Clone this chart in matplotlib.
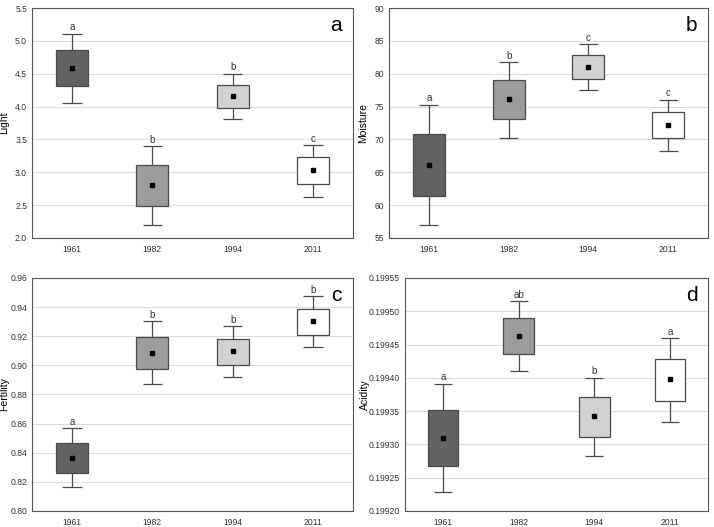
import numpy as np
import matplotlib
matplotlib.use('Agg')
import matplotlib.pyplot as plt

plt.rcParams['font.family'] = ['Liberation Sans', 'DejaVu Sans']

years = ['1961', '1982', '1994', '2011']
box_colors = ['#636363', '#9c9c9c', '#d2d2d2', '#ffffff']

# light
light_mean = [4.58, 2.81, 4.16, 3.03]
light_box_lo = [4.31, 2.49, 3.98, 2.82]
light_box_hi = [4.86, 3.11, 4.33, 3.23]
light_wh_lo = [4.05, 2.20, 3.81, 2.62]
light_wh_hi = [5.11, 3.40, 4.50, 3.41]
light_letters = ['a', 'b', 'b', 'c']

# moisture
moist_mean = [66.16, 76.10, 81.02, 72.14]
moist_box_lo = [61.44, 73.06, 79.14, 70.16]
moist_box_hi = [70.87, 79.00, 82.80, 74.12]
moist_wh_lo = [56.98, 70.21, 77.47, 68.19]
moist_wh_hi = [75.29, 81.78, 84.52, 76.05]
moist_letters = ['a', 'b', 'c', 'c']

# fertility
fert_mean = [0.8363, 0.9088, 0.9099, 0.9305]
fert_box_lo = [0.8261, 0.8976, 0.9001, 0.9211]
fert_box_hi = [0.8469, 0.9198, 0.9182, 0.9390]
fert_wh_lo = [0.8162, 0.8869, 0.8917, 0.9129]
fert_wh_hi = [0.8567, 0.9303, 0.9269, 0.9474]
fert_letters = ['a', 'b', 'b', 'b']

# acidity
acid_mean = [0.199309, 0.199463, 0.199342, 0.199398]
acid_box_lo = [0.199268, 0.199436, 0.199311, 0.199365]
acid_box_hi = [0.199351, 0.199490, 0.199371, 0.199429]
acid_wh_lo = [0.199228, 0.199410, 0.199283, 0.199334]
acid_wh_hi = [0.199391, 0.199515, 0.199400, 0.199460]
acid_letters = ['a', 'ab', 'b', 'a']

edge = '#4a4a4a'


def box_panel(ax, mean, lo, hi, wlo, whi, letters, ylabel, ylim, yticks, fmt, tag, label_x):
    x = np.arange(len(years))
    # whiskers first so boxes cover them
    ax.vlines(x, wlo, lo, color=edge, lw=0.9, zorder=2)
    ax.vlines(x, hi, whi, color=edge, lw=0.9, zorder=2)
    ax.hlines(wlo, x - 0.12, x + 0.12, color=edge, lw=0.9, zorder=2)
    ax.hlines(whi, x - 0.12, x + 0.12, color=edge, lw=0.9, zorder=2)
    ax.bar(x, np.array(hi) - np.array(lo), bottom=lo, width=0.4,
           color=box_colors, edgecolor=edge, linewidth=0.9, zorder=3)
    ax.plot(x, mean, 's', color='black', ms=3, zorder=4)
    for xi, top, lab in zip(x, whi, letters):
        ax.annotate(lab, (xi, top), xytext=(0, 1), textcoords='offset points',
                    ha='center', va='bottom', fontsize=7, color='#333333')
    ax.set_xlim(-0.5, 3.5)
    ax.set_ylim(*ylim)
    ax.set_yticks(yticks)
    ax.set_yticklabels([fmt.format(v) for v in yticks])
    ax.set_xticks(x)
    ax.set_xticklabels(years)
    ax.tick_params(length=0, labelsize=6.2, colors='#333333')
    ax.tick_params(axis='y', pad=3.5)
    ax.tick_params(axis='x', pad=5)
    ax.set_ylabel(ylabel, fontsize=7.5)
    ax.yaxis.set_label_coords(label_x, 0.5)
    ax.grid(axis='y', color='#dcdcdc', lw=0.8, zorder=0)
    ax.set_axisbelow(True)
    for s in ax.spines.values():
        s.set_color('#555555')
        s.set_linewidth(0.8)
    ax.text(0.965, 0.965, tag, transform=ax.transAxes, ha='right', va='top',
            fontsize=15)


fig = plt.figure(figsize=(7.14, 5.27), dpi=100)
ax_a = fig.add_axes([0.0448, 0.5484, 0.4496, 0.4364])
ax_b = fig.add_axes([0.5448, 0.5484, 0.4468, 0.4364])
ax_c = fig.add_axes([0.0448, 0.0304, 0.4496, 0.4421])
ax_d = fig.add_axes([0.5672, 0.0304, 0.4244, 0.4421])

box_panel(ax_a, light_mean, light_box_lo, light_box_hi, light_wh_lo, light_wh_hi,
          light_letters, 'Light', (2.0, 5.5), np.arange(2.0, 5.51, 0.5), '{:.1f}', 'a', -0.07)
box_panel(ax_b, moist_mean, moist_box_lo, moist_box_hi, moist_wh_lo, moist_wh_hi,
          moist_letters, 'Moisture', (55, 90), np.arange(55, 91, 5), '{:.0f}', 'b', -0.066)
box_panel(ax_c, fert_mean, fert_box_lo, fert_box_hi, fert_wh_lo, fert_wh_hi,
          fert_letters, 'Fertility', (0.80, 0.96), np.arange(0.80, 0.961, 0.02), '{:.2f}', 'c', -0.072)
box_panel(ax_d, acid_mean, acid_box_lo, acid_box_hi, acid_wh_lo, acid_wh_hi,
          acid_letters, 'Acidity', (0.19920, 0.19955),
          np.linspace(0.19920, 0.19955, 8), '{:.5f}', 'd', -0.115)

fig.savefig('out.png', dpi=100)
